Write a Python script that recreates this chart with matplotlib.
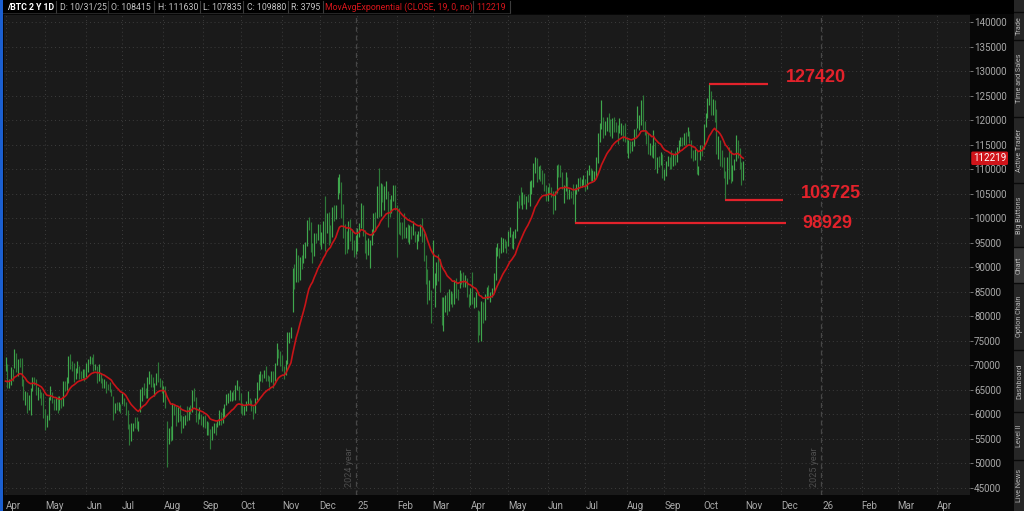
import numpy as np
import pandas as pd
import matplotlib
matplotlib.use("Agg")
import matplotlib.pyplot as plt
from matplotlib.patches import Rectangle
from matplotlib.transforms import blended_transform_factory

# ---------------- data (thousands of USD, one bar per CME session) ----------------
first_day = "2024-04-01"
last_day = "2025-10-31"
closed_days = ["2024-12-25", "2025-01-01", "2025-04-18"]
future_end = "2026-04-30"

highs = [
    71.8, 70.3, 67.3, 69.7, 69.2,  73.3, 72.6, 71.3, 71.6, 71.6,  67.3, 64.7, 64.6, 64.0, 65.3,
    67.6, 67.6, 67.3, 65.5, 65.1,  64.6, 64.3, 61.0, 59.8, 63.6,  65.8, 64.6, 63.2, 63.6, 63.8,
    63.8, 63.3, 66.8, 66.9, 67.6,  71.9, 72.3, 70.9, 70.4, 69.5,  70.9, 69.9, 68.9, 69.3, 69.2,
    70.5, 71.2, 71.9, 71.7, 72.3,  70.2, 69.8, 70.2, 68.5, 67.5,  67.2, 66.9, 66.1, 66.7, 65.2,
    63.8, 62.3, 62.6, 62.5, 62.2,  64.3, 63.3, 62.5, 60.8, 58.0,  58.3, 58.3, 59.5, 59.5, 58.6,
    65.2, 65.6, 66.3, 65.3, 67.6,  68.9, 68.2, 67.6, 66.4, 68.4,  70.7, 67.5, 67.0, 65.7, 65.8,
    58.6, 57.3, 57.7, 62.3, 62.2,  61.7, 61.5, 61.9, 59.9, 59.6,  59.9, 61.8, 61.6, 61.9, 64.9,
    65.3, 63.5, 60.3, 61.5, 60.0,  59.6, 59.8, 58.6, 58.4, 57.1,  57.6, 58.3, 58.2, 58.8, 60.9,
    60.4, 61.3, 62.2, 64.2, 64.4,  64.9, 64.6, 64.9, 65.9, 67.1,  65.8, 64.4, 62.3, 61.7, 62.7,
    64.8, 63.3, 62.9, 61.7, 63.3,  66.7, 68.3, 68.8, 68.3, 69.0,  69.9, 68.1, 67.8, 68.8, 68.9,
    70.4, 74.5, 73.3, 72.9, 72.2,  69.9, 71.0, 76.8, 76.9, 77.8,  89.9, 90.6, 94.0, 92.4, 92.0,
    92.4, 94.8, 95.1, 99.7, 100.3,  99.2, 94.9, 97.0, 97.0, 98.9,  98.8, 97.2, 99.5, 104.6, 101.0,
    101.3, 98.6, 102.2, 102.6, 102.6,  108.3, 109.0, 107.3, 102.9, 98.9,  97.4, 99.4, 99.9, 97.9,
    95.5, 96.6, 98.0, 99.0,  103.0, 102.7, 97.6, 95.6, 95.9,  95.5, 97.7, 101.0, 101.3, 106.5,
    110.2, 107.1, 107.0, 106.5, 107.6,  105.6, 103.9, 104.7, 106.8, 106.7,  102.6, 102.1, 99.2, 99.3, 101.0,
    98.3, 98.8, 98.6, 98.5, 99.4,  97.3, 96.8, 97.4, 98.9, 100.0,  96.9, 92.5, 89.7, 87.5, 85.4,
    95.6, 88.9, 91.0, 92.7, 91.7,  84.0, 84.0, 84.4, 85.0, 85.6,  85.2, 84.7, 87.5, 87.8, 85.5,
    89.4, 88.8, 89.0, 88.4, 87.9,  84.5, 85.8, 89.1, 84.0, 85.0,  81.2, 81.0, 83.2, 83.0, 84.6,
    85.9, 86.3, 85.0, 85.8,  88.9, 94.2, 95.0, 94.0, 96.1,  95.9, 95.8, 95.4, 97.4, 98.3,
    96.8, 97.3, 97.9, 103.6, 104.8,  106.3, 105.3, 105.0, 104.5, 105.0,  107.6, 107.8, 111.3, 112.5, 112.3,
    110.7, 110.9, 109.8, 109.2, 106.8,  106.3, 107.1, 106.3, 105.5, 105.5,  110.8, 111.1, 110.9, 109.4, 106.8,
    109.4, 108.3, 105.9, 105.6, 106.9,  106.1, 106.9, 108.2, 108.4, 108.0,  108.9, 107.9, 109.8, 110.9, 110.3,
    109.9, 109.7, 112.4, 117.4, 119.5,  124.0, 120.6, 119.8, 120.7, 121.5,  120.3, 120.5, 120.6, 119.6, 119.0,
    120.4, 119.5, 119.0, 119.5, 116.6,  115.9, 115.8, 115.8, 118.2, 118.4,  122.9, 121.0, 124.0, 125.2, 119.9,
    118.0, 117.4, 115.4, 114.9, 117.9,  115.5, 112.5, 112.7, 113.4, 113.1,  110.0, 111.7, 112.6, 112.5, 113.9,
    113.0, 113.6, 114.5, 116.0, 116.6,  116.5, 117.3, 117.6, 118.5, 117.7,  115.9, 113.9, 114.1, 113.9, 110.7,
    114.9, 115.0, 119.2, 121.4, 124.5,  127.42, 126.0, 124.3, 124.0, 122.3,  116.7, 115.9, 114.0, 112.4, 109.6,
    112.4, 114.6, 114.0, 110.9, 112.0,  117.0, 116.0, 114.3, 111.5, 111.63,
]

lows = [
    68.8, 65.3, 65.4, 65.9, 66.8,  69.5, 68.6, 67.8, 69.6, 65.8,  63.0, 62.0, 60.2, 60.8, 59.8,
    64.8, 65.9, 63.9, 62.9, 63.4,  62.0, 59.3, 56.9, 57.4, 58.9,  62.9, 62.3, 60.9, 60.8, 60.3,
    60.9, 61.3, 61.7, 64.8, 65.0,  66.5, 69.3, 68.9, 66.6, 67.2,  68.4, 67.3, 67.2, 67.4, 66.9,
    67.6, 68.6, 70.3, 70.2, 68.8,  69.0, 66.4, 66.8, 66.5, 65.3,  65.3, 64.4, 64.9, 64.6, 63.7,
    58.9, 60.3, 60.8, 60.6, 60.2,  62.2, 61.8, 59.8, 57.0, 53.7,  54.6, 56.6, 57.2, 57.0, 56.6,
    60.5, 62.7, 64.0, 63.3, 63.4,  66.2, 65.6, 65.5, 63.8, 65.9,  66.6, 65.5, 64.4, 62.6, 61.3,
    49.3, 53.9, 54.5, 54.8, 59.8,  57.6, 58.5, 58.6, 56.3, 57.3,  57.9, 58.7, 58.9, 60.0, 60.5,
    62.7, 58.4, 58.0, 59.1, 57.8,  57.5, 57.3, 55.8, 55.8, 53.0,  54.7, 56.3, 55.8, 57.5, 57.8,
    57.8, 58.3, 59.4, 61.9, 62.4,  62.8, 62.8, 62.9, 62.9, 64.9,  62.9, 60.3, 59.9, 59.9, 60.7,
    62.2, 61.9, 60.6, 59.1, 60.3,  62.9, 64.9, 66.9, 66.6, 67.4,  66.9, 66.9, 65.5, 66.7, 65.4,
    66.9, 70.0, 71.4, 69.8, 68.9,  67.3, 68.1, 70.3, 74.6, 75.5,  80.9, 85.6, 87.0, 87.0, 87.5,
    89.6, 90.8, 91.9, 94.3, 97.5,  93.1, 90.9, 92.3, 94.9, 95.5,  94.6, 93.7, 94.9, 93.3, 97.0,
    94.6, 95.0, 96.2, 99.5, 99.9,  103.9, 105.2, 100.1, 96.0, 92.8,  92.9, 93.8, 95.3, 93.6,
    92.0, 92.7, 93.3, 96.2,  98.1, 96.4, 92.9, 91.6, 92.4,  89.8, 94.5, 96.6, 97.6, 100.0,
    100.3, 100.5, 103.4, 101.7, 103.9,  98.2, 100.3, 101.0, 103.5, 101.7,  92.0, 96.8, 96.6, 95.8, 96.0,
    95.9, 95.2, 94.7, 95.8, 96.6,  95.2, 93.8, 95.3, 96.4, 95.2,  91.3, 86.5, 82.6, 83.3, 78.6,
    85.8, 81.9, 86.4, 87.2, 85.0,  78.2, 77.0, 80.8, 80.2, 81.0,  82.5, 81.9, 82.6, 83.8, 83.4,
    85.7, 86.6, 86.0, 85.9, 83.9,  81.8, 82.4, 82.5, 81.6, 81.9,  74.8, 76.2, 74.9, 78.6, 79.2,
    83.6, 83.6, 83.0, 84.0,  84.9, 87.4, 92.3, 91.9, 92.9,  93.2, 94.0, 92.9, 94.4, 96.2,
    93.9, 93.8, 95.9, 97.4, 102.1,  102.6, 101.9, 102.9, 101.8, 103.3,  102.5, 104.9, 106.3, 109.3, 107.3,
    108.0, 107.6, 106.9, 105.6, 103.6,  103.6, 105.0, 104.4, 100.9, 101.6,  105.2, 108.4, 108.3, 105.9, 103.2,
    105.6, 103.9, 103.9, 104.2, 102.9,  98.929, 104.9, 105.6, 106.3, 106.4,  106.8, 105.5, 105.9, 108.8, 107.5,
    107.6, 107.6, 108.5, 111.3, 115.6,  118.2, 116.3, 116.9, 117.8, 117.5,  116.8, 116.3, 117.5, 117.5, 115.2,
    117.3, 117.0, 115.8, 115.6, 113.3,  112.2, 113.2, 113.6, 114.8, 116.4,  118.3, 118.0, 118.9, 117.8, 116.9,
    115.2, 113.1, 112.8, 112.5, 112.3,  110.1, 109.2, 110.4, 110.9, 108.2,  107.8, 108.6, 110.6, 110.0, 110.1,
    110.7, 110.9, 111.4, 113.7, 114.7,  114.7, 114.9, 114.9, 116.8, 115.4,  112.3, 111.6, 111.8, 109.0, 108.8,
    111.8, 112.7, 114.1, 118.5, 120.4,  123.0, 121.0, 121.1, 119.6, 113.0,  112.0, 110.6, 110.5, 108.2, 103.725,
    107.0, 107.9, 107.2, 107.5, 109.8,  111.6, 112.3, 110.0, 106.8, 107.835,
]

closes = [
    70.2, 66.3, 66.5, 69.0, 68.4,  72.0, 69.5, 71.0, 70.3, 67.5,  63.6, 64.0, 61.4, 63.6, 64.3,
    67.1, 66.6, 64.5, 64.6, 64.0,  63.6, 60.7, 58.4, 59.3, 63.1,  63.5, 62.6, 61.4, 63.3, 61.0,
    63.1, 61.9, 66.5, 65.6, 67.3,  71.6, 70.5, 69.5, 68.1, 68.8,  69.6, 68.5, 67.8, 68.7, 67.8,
    69.0, 70.9, 71.4, 71.1, 69.6,  69.7, 67.6, 68.5, 66.9, 66.3,  66.8, 65.5, 65.2, 65.1, 64.4,
    60.6, 62.0, 61.2, 61.9, 60.6,  63.0, 62.2, 60.5, 57.5, 56.8,  56.9, 58.1, 57.9, 57.5, 58.2,
    65.0, 65.3, 64.4, 64.2, 67.0,  68.0, 66.3, 65.8, 66.2, 68.3,  67.3, 66.6, 65.0, 65.6, 61.9,
    54.5, 56.4, 55.3, 61.9, 61.0,  59.6, 60.9, 59.0, 57.9, 59.2,  59.6, 59.2, 61.4, 60.7, 64.5,
    63.2, 59.7, 59.3, 59.6, 59.3,  59.3, 57.8, 58.1, 56.4, 54.0,  57.3, 57.9, 57.6, 58.3, 60.7,
    58.5, 60.5, 62.0, 63.3, 63.5,  63.6, 64.5, 63.4, 65.5, 66.2,  63.5, 61.0, 60.9, 61.0, 62.4,
    62.6, 62.5, 60.9, 60.6, 62.9,  66.4, 67.4, 68.0, 67.8, 68.8,  67.8, 67.7, 67.0, 68.5, 66.9,
    70.3, 73.2, 72.8, 70.6, 69.9,  68.4, 70.6, 75.9, 76.4, 77.2,  89.3, 88.8, 91.0, 87.9, 91.5,
    91.1, 93.0, 94.8, 99.2, 99.0,  93.6, 92.3, 96.6, 96.2, 98.2,  96.6, 96.7, 99.1, 97.8, 100.4,
    97.9, 97.3, 101.9, 100.8, 102.1,  106.8, 106.9, 100.7, 97.8, 97.7,  95.3, 99.1, 96.3, 94.9,
    93.2, 94.0, 97.6, 98.8,  102.5, 97.1, 95.5, 93.0, 95.0,  95.0, 97.0, 100.9, 100.3, 104.8,
    102.8, 106.6, 104.2, 104.7, 105.3,  102.7, 101.8, 104.2, 105.2, 102.9,  101.9, 98.4, 97.1, 97.0, 96.9,
    97.9, 96.3, 98.4, 97.0, 97.9,  96.2, 96.3, 97.0, 98.8, 96.5,  91.9, 89.1, 84.8, 85.0, 84.6,
    86.8, 87.6, 90.9, 90.3, 87.1,  79.0, 83.3, 84.2, 81.6, 84.6,  84.6, 83.2, 87.4, 84.8, 84.6,
    88.6, 88.1, 87.4, 87.7, 84.9,  83.0, 85.7, 83.2, 83.5, 84.2,  79.6, 76.8, 82.9, 80.0, 84.0,
    84.9, 84.0, 84.4, 85.2,  87.9, 93.9, 93.9, 93.7, 95.0,  95.4, 94.7, 94.6, 97.0, 97.4,
    95.2, 97.2, 97.5, 103.6, 103.4,  103.3, 104.7, 104.0, 104.3, 104.0,  106.1, 107.3, 110.2, 112.2, 107.8,
    109.9, 109.4, 108.3, 106.1, 104.4,  106.3, 106.0, 105.2, 102.0, 104.8,  110.8, 110.7, 109.1, 106.4, 106.5,
    107.5, 105.1, 105.4, 105.1, 103.8,  105.9, 106.5, 107.8, 107.5, 107.6,  107.6, 106.3, 109.4, 110.0, 108.5,
    108.6, 109.4, 111.9, 116.6, 118.2,  120.3, 118.3, 119.3, 120.0, 118.5,  118.0, 120.4, 119.3, 118.9, 118.1,
    118.5, 118.5, 118.4, 116.4, 113.9,  115.6, 114.6, 115.6, 118.0, 117.2,  119.2, 120.8, 123.8, 118.9, 117.9,
    116.8, 113.4, 114.8, 112.9, 117.4,  110.6, 112.3, 111.7, 113.1, 108.9,  109.7, 111.7, 112.2, 111.2, 110.7,
    112.6, 111.9, 114.4, 115.9, 116.6,  115.8, 117.3, 117.0, 117.6, 116.2,  113.2, 112.5, 113.8, 109.5, 110.1,
    114.9, 114.5, 119.1, 121.1, 122.8,  125.3, 121.9, 123.8, 122.1, 113.7,  115.8, 113.6, 111.2, 108.6, 107.1,
    111.0, 109.0, 108.1, 110.6, 111.6,  114.6, 113.4, 110.8, 108.4, 109.88,
]

last_open = 108.415          # header "O:" value of the last bar
ema_length = 19
ema_seed = 66.4              # EMA level at the left edge of the view
ema_label_value = 112.219    # EMA value shown on the price axis

levels = [127.420, 103.725, 98.929]
level_texts = ["127420", "103725", "98929"]
level_start_dates = ["2025-10-06", "2025-10-17", "2025-06-23"]
level_end_dates = ["2025-11-20", "2025-12-02", "2025-12-04"]
level_text_dates = ["2025-12-04", "2025-12-16", "2025-12-17"]

y_tick_values = list(range(45, 141, 5))
month_names = ["", "Jan", "Feb", "Mar", "Apr", "May", "Jun", "Jul", "Aug", "Sep", "Oct", "Nov", "Dec"]
side_tabs = ["Trade", "Time and Sales", "Active Trader", "Big Buttons", "Chart",
             "Option Chain", "Dashboard", "Level II", "Live News"]

# ---------------- build index ----------------
dates = pd.bdate_range(first_day, last_day)
dates = dates[~dates.isin(pd.to_datetime(closed_days))]
n = min(len(dates), len(highs), len(lows), len(closes))
dates = dates[:n]
highs = np.array(highs[:n]); lows = np.array(lows[:n]); closes = np.array(closes[:n])
idx = np.arange(n)

future = pd.bdate_range(dates[-1] + pd.Timedelta(days=1), future_end)
all_dates = dates.append(future)


def date_to_i(d):
    return int(np.searchsorted(all_dates.values, np.datetime64(pd.Timestamp(d))))


ema = pd.Series(np.concatenate([[ema_seed], closes])).ewm(span=ema_length, adjust=False).mean().values[1:]

# ---------------- figure ----------------
W, H = 1024, 511
fig = plt.figure(figsize=(W / 100, H / 100), dpi=100, facecolor="#070707")


def fx(px):
    return px / W


def fy(py):
    return 1 - py / H


FONT = ["Roboto", "DejaVu Sans"]
ax_l, ax_r, ax_t, ax_b = 4, 970, 15, 495
ax = fig.add_axes([fx(ax_l), fy(ax_b), fx(ax_r - ax_l), (ax_b - ax_t) / H])
ax.set_facecolor("#1a1a1a")

x0, sx = 5.5, 1.795
ax.set_xlim((ax_l - x0) / sx, (ax_r - x0) / sx)
ax.set_ylim(140 - (ax_b - 22) / 4.905, 140 - (ax_t - 22) / 4.905)

# month ticks (first session of each month)
tick_pos, tick_lab = [], []
prev = None
for i, d in enumerate(all_dates):
    key = (d.year, d.month)
    if key != prev:
        tick_pos.append(i)
        tick_lab.append(str(d.year)[2:] if d.month == 1 else month_names[d.month])
        prev = key
ax.set_xticks(tick_pos)
ax.set_xticklabels(tick_lab)
for lab in ax.get_xticklabels():
    lab.set_horizontalalignment("left")
ax.tick_params(axis="x", length=0, pad=4, labelsize=7, labelcolor="#a9a9a9")

ax.yaxis.tick_right()
ax.set_yticks(y_tick_values)
ax.set_yticklabels([f"{v * 1000}" for v in y_tick_values])
ax.tick_params(axis="y", length=2, width=0.6, color="#8a8a8a", pad=1, labelsize=7, labelcolor="#a9a9a9")
for lab in ax.get_xticklabels() + ax.get_yticklabels():
    lab.set_fontfamily(FONT)

ax.grid(True, color="#3d3d3d", linestyle=(0, (1, 3)), linewidth=0.7)
ax.set_axisbelow(True)
for s in ax.spines.values():
    s.set_visible(False)

# year separators
year_starts = [i for i in range(1, len(all_dates)) if all_dates[i].year != all_dates[i - 1].year]
trans_xa = blended_transform_factory(ax.transData, ax.transAxes)
for i in year_starts:
    ax.axvline(i - 0.5, color="#474747", lw=0.9, ls=(0, (4, 3)), zorder=1)
    ax.text(i - 2.0, 0.017, f"{all_dates[i].year - 1} year", rotation=90, transform=trans_xa,
            ha="right", va="bottom", fontsize=6.5, color="#4e4e4e", family=FONT)

# OHLC bars (vertical range lines)
up = np.r_[True, closes[1:] >= closes[:-1]]
colors = np.where(up, "#3fa74d", "#2e7a39")
ax.vlines(idx, lows, highs, colors=colors, lw=0.85, zorder=3)

# EMA
ax.plot(idx, ema, color="#c81418", lw=1.2, zorder=4)

# level lines and labels
red = "#e3222b"
vas = ["baseline", "baseline", "center"]
for lv, txt, ds, de, dt, va in zip(levels, level_texts, level_start_dates, level_end_dates, level_text_dates, vas):
    ax.hlines(lv, date_to_i(ds), date_to_i(de), color=red, lw=1.6, zorder=5)
    ax.text(date_to_i(dt), lv + (0.35 if va == "baseline" else 0), txt, color=red, fontsize=13,
            fontweight="bold", family="Liberation Sans", ha="left", va=va, zorder=6)

# EMA value flag on price axis
trans_ay = blended_transform_factory(ax.transAxes, ax.transData)
ax.text(1.0 + 3 / (ax_r - ax_l), ema_label_value, f"{int(round(ema_label_value * 1000))}", transform=trans_ay,
        ha="left", va="center", fontsize=7, color="white", family=FONT, zorder=10,
        bbox=dict(boxstyle="round,pad=0.18,rounding_size=0.15", fc="#d0141a", ec="none"), clip_on=False)

# ---------------- header bar ----------------
fig.patches.append(Rectangle((0, fy(14)), 1, 14 / H, transform=fig.transFigure, fc="#000000", ec="none", zorder=0))
fig.patches.append(Rectangle((0, 0), fx(3), 1, transform=fig.transFigure, fc="#1b5fd0", ec="none", zorder=5))
last_date = dates[-1]
hdr = [
    ("/BTC 2 Y 1D", 7, "white", "bold"),
    (f"D: {last_date.month}/{last_date.day}/{str(last_date.year)[2:]}", 60, "#c4c4c4", "normal"),
    (f"O: {int(round(last_open * 1000))}", 111, "#c4c4c4", "normal"),
    (f"H: {int(round(highs[-1] * 1000))}", 158, "#c4c4c4", "normal"),
    (f"L: {int(round(lows[-1] * 1000))}", 203, "#c4c4c4", "normal"),
    (f"C: {int(round(closes[-1] * 1000))}", 247, "#c4c4c4", "normal"),
    (f"R: {int(round((highs[-1] - lows[-1]) * 1000))}", 291, "#c4c4c4", "normal"),
    (f"MovAvgExponential (CLOSE, {ema_length}, 0, no)", 325, "#d8161c", "normal"),
    (f"{int(round(ema_label_value * 1000))}", 476, "#d8161c", "normal"),
]
for txt, xp, col, wt in hdr:
    fig.text(fx(xp), fy(7.5), txt, color=col, fontsize=6.3, fontweight=wt, ha="left", va="center", family=FONT)
for xp in [56, 108, 154, 200, 243, 288, 323, 473, 510]:
    fig.add_artist(plt.Line2D([fx(xp), fx(xp)], [fy(13), fy(1)], transform=fig.transFigure, color="#3c3c3c", lw=0.8))
fig.add_artist(plt.Line2D([fx(3), fx(510)], [fy(13.5), fy(13.5)], transform=fig.transFigure, color="#2e2e2e", lw=0.6))

# ---------------- right side tab strip ----------------
fig.patches.append(Rectangle((fx(1014), 0), fx(10), 1, transform=fig.transFigure, fc="#262626", ec="none", zorder=1))
fig.patches.append(Rectangle((fx(1014), fy(283)), fx(10), 36 / H, transform=fig.transFigure, fc="#3a3a3a", ec="none", zorder=1))
tab_edges = [12, 40, 117, 183, 247, 283, 350, 412, 460, 511]
for name, a, b in zip(side_tabs, tab_edges[:-1], tab_edges[1:]):
    fig.text(fx(1019.5), fy((a + b) / 2), name, rotation=90, color="#b8b8b8", fontsize=5.2, ha="center", va="center",
             family=FONT)
    fig.add_artist(plt.Line2D([fx(1014), fx(1024)], [fy(a), fy(a)], transform=fig.transFigure, color="#0a0a0a", lw=1.0))

fig.savefig("out.png", dpi=100, facecolor=fig.get_facecolor())
